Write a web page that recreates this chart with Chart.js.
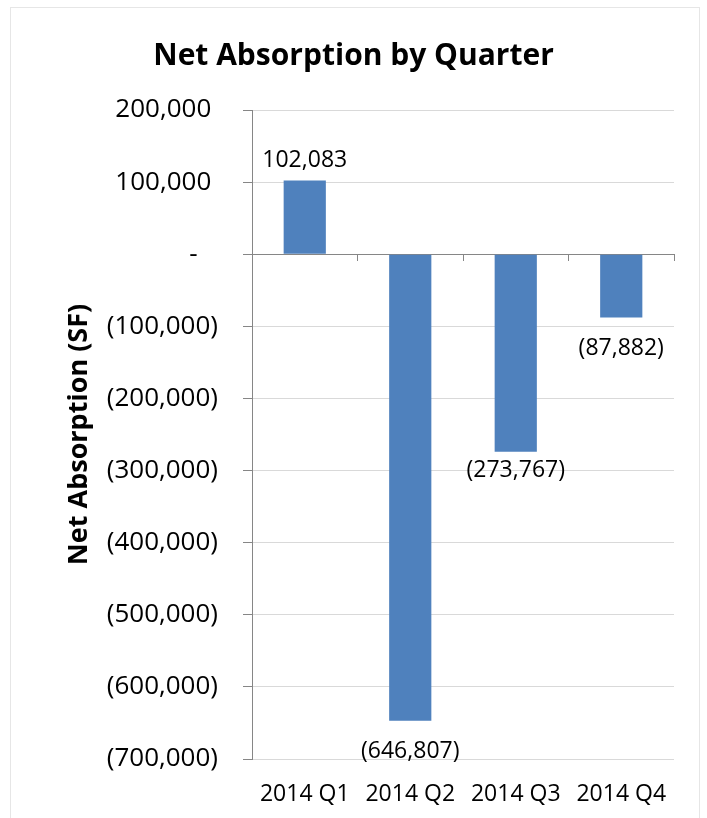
<!DOCTYPE html>
<html>
<head>
<meta charset="utf-8">
<script src="https://cdn.jsdelivr.net/npm/chart.js@4/dist/chart.umd.min.js"></script>
<style>
  html, body { margin: 0; padding: 0; background: #ffffff; }
  #wrap { position: relative; width: 707px; height: 818px; overflow: hidden; }
  #frame { position: absolute; left: 10px; top: 7px; width: 690px; height: 840px;
           border: 1px solid #e6e6e6; box-sizing: border-box; }
  #c { position: absolute; left: 0; top: 0; }
</style>
</head>
<body>
<div id="wrap">
  <div id="frame"></div>
  <canvas id="c" width="707" height="818"></canvas>
</div>
<script>
// Quarterly net absorption, square feet
const quarters = ['2014 Q1', '2014 Q2', '2014 Q3', '2014 Q4'];
const netAbsorption = [102083, -646807, -273767, -87882];
const axisMin = -700000;
const axisMax = 200000;
const axisStep = 100000;

const FONT = '"Open Sans", Lato, sans-serif';
const BAR_BLUE = '#4F81BD';
const AXIS_GREY = '#868686';
const GRID_GREY = '#D9D9D9';

function accounting(v) {
  if (v === 0) return '-';
  const s = Math.abs(v).toLocaleString('en-US');
  return v < 0 ? '(' + s + ')' : s;
}

// Value labels drawn at the end of each bar
const valueLabels = {
  id: 'valueLabels',
  afterDatasetsDraw(chart, args, opts) {
    const ctx = chart.ctx;
    const meta = chart.getDatasetMeta(0);
    const values = chart.data.datasets[0].data;
    ctx.save();
    ctx.font = opts.font;
    ctx.fillStyle = opts.color;
    ctx.textAlign = 'center';
    ctx.textBaseline = 'alphabetic';
    meta.data.forEach((bar, i) => {
      const v = values[i];
      const gap = opts.gaps[i];
      const y = v >= 0 ? bar.y - gap : bar.y + gap + 17;
      ctx.fillText(accounting(v), bar.x, y);
    });
    ctx.restore();
  }
};

new Chart(document.getElementById('c'), {
  type: 'bar',
  data: {
    labels: quarters,
    datasets: [{
      data: netAbsorption,
      backgroundColor: BAR_BLUE,
      borderWidth: 0,
      categoryPercentage: 1.0,
      barPercentage: 0.4,
      xAxisID: 'x',
      yAxisID: 'y'
    }]
  },
  options: {
    responsive: false,
    animation: false,
    events: [],
    layout: { padding: 0 },
    plugins: {
      legend: { display: false },
      tooltip: { enabled: false },
      title: {
        display: true,
        text: 'Net Absorption by Quarter',
        color: '#000000',
        font: { family: FONT, size: 30, weight: 'bold', lineHeight: 1.2 },
        padding: { top: 38, bottom: 36 }
      },
      valueLabels: {
        font: '23px ' + FONT,
        color: '#000000',
        gaps: [14, 20, 8, 20]
      }
    },
    scales: {
      x: {
        type: 'category',
        position: 'bottom',
        offset: true,
        grid: { display: false },
        border: { display: false },
        ticks: {
          color: '#000000',
          font: { family: FONT, size: 23 },
          padding: 14,
          maxRotation: 0,
          autoSkip: false
        },
        afterFit(scale) { scale.height = 59; }
      },
      xEdge: {
        type: 'category',
        position: { y: 0 },
        offset: true,
        grid: {
          display: true,
          offset: true,
          drawOnChartArea: false,
          drawTicks: true,
          tickLength: 7,
          tickColor: AXIS_GREY,
          color: AXIS_GREY
        },
        border: { display: false },
        ticks: { display: false }
      },
      y: {
        min: axisMin,
        max: axisMax,
        position: 'left',
        grid: {
          color: (c) => (c.tick && c.tick.value === 0 ? AXIS_GREY : GRID_GREY),
          tickColor: AXIS_GREY,
          tickLength: 9,
          lineWidth: 1
        },
        border: { display: true, color: AXIS_GREY, width: 1 },
        ticks: {
          stepSize: axisStep,
          color: '#000000',
          font: { family: FONT, size: 26 },
          padding: 25,
          callback: (v) => {
            if (v === 0) return '-   ';
            return v > 0 ? accounting(v) + ' ' : accounting(v);
          }
        },
        title: {
          display: true,
          text: 'Net Absorption (SF)',
          color: '#000000',
          font: { family: FONT, size: 27, weight: 'bold', lineHeight: 1.2 },
          padding: { top: 63, bottom: 0 }
        },
        afterFit(scale) { scale.width = 252; }
      },
      // empty right-hand margin of the plot
      yRight: {
        type: 'linear',
        position: 'right',
        grid: { display: false },
        border: { display: false },
        ticks: { display: false },
        afterFit(scale) { scale.width = 33; }
      }
    }
  },
  plugins: [valueLabels]
});
</script>
</body>
</html>
